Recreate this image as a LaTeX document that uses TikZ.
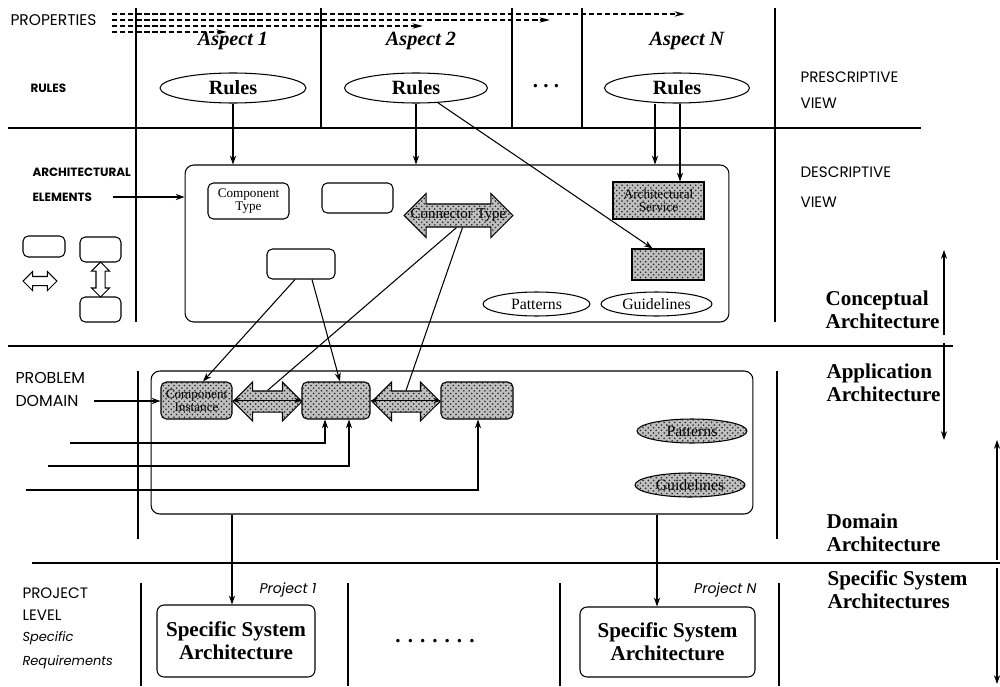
\documentclass[tikz,border=0pt]{standalone}
\usepackage{fontspec}
\setmainfont{Liberation Serif}
\setsansfont{Poppins}
\usetikzlibrary{arrows.meta,shapes.geometric,shapes.arrows,patterns,positioning,calc}

\tikzset{
	lbl/.style={font=\sffamily\fontsize{8.6}{10}\selectfont,anchor=west,inner sep=0},
	lblbf/.style={lbl,font=\sffamily\bfseries\fontsize{6.8}{8}\selectfont},
	lblit/.style={lbl,font=\sffamily\itshape\fontsize{8}{10}\selectfont},
	aspect/.style={font=\bfseries\itshape\fontsize{11.5}{13}\selectfont},
	level/.style={font=\bfseries\fontsize{12}{13}\selectfont,align=left,anchor=west,inner sep=0},
	rulesnode/.style={ellipse,draw,inner sep=0,minimum width=#1,minimum height=0.6cm,font=\bfseries\fontsize{11.5}{13}\selectfont},
	rbox/.style={draw,rounded corners=3pt,inner sep=0,align=center,font=\fontsize{7.5}{7.5}\selectfont},
	pbox/.style={draw,inner sep=0,align=center,font=\fontsize{7.5}{7.5}\selectfont,dotfill},
	oval/.style={ellipse,draw,inner sep=0,minimum height=0.48cm,font=\fontsize{9}{9}\selectfont},
	dotfill/.style={preaction={fill=gray!50},pattern=crosshatch dots,pattern color=black!85},
	conn/.style={double arrow,draw,inner xsep=0,minimum width=0,minimum height=#1},
	ssa/.style={draw,rounded corners=4pt,inner sep=0,align=center,font=\bfseries\fontsize{12}{13}\selectfont},
	arr/.style={-{Stealth[length=5pt,width=3.5pt]}},
	twoarr/.style={{Stealth[length=4pt,width=3pt]}-{Stealth[length=4pt,width=3pt]}},
	propline/.style={line width=0.9pt,dash pattern=on 3pt off 1.6pt,-{Stealth[length=6pt,width=3pt]}}
}

\begin{document}
\begin{tikzpicture}[x=0.02cm,y=-0.02cm,line width=0.6pt]
	\useasboundingbox (0,0) rectangle (1000,686);
	% frame
	\draw (136,8) -- (136,322) (321,8) -- (321,128) (512,8) -- (512,128) (582,8) -- (582,128) (775,8) -- (775,322);
	\draw (8,128) -- (921,128) (8,346) -- (953,346) (32,563) -- (1000,563);
	\draw (138,371) -- (138,539) (777,371) -- (777,539);
	\draw (141,583) -- (141,686) (348,583) -- (348,686) (560,583) -- (560,686) (779,583) -- (779,686);

	% prescriptive view
	\node[lbl,font=\sffamily\fontsize{8.8}{10}\selectfont] (props) at (10,20) {PROPERTIES};
	\foreach \y/\xe in {14/685,20/550,26/423,32/227}
		\draw[propline] (112,\y) -- (\xe,\y);
	\node[lblbf] (rules) at (30,88) {RULES};
	\node[aspect] (a1) at (233,41) {Aspect 1};
	\node[aspect] (a2) at (421,41) {Aspect 2};
	\node[aspect] (an) at (687,41) {Aspect N};
	\node[rulesnode=2.92cm] (r1) at (233,88) {Rules};
	\node[rulesnode=2.86cm] (r2) at (416,88) {Rules};
	\node[rulesnode=2.9cm] (rn) at (677,88) {Rules};
	\node[font=\bfseries\fontsize{12}{12}\selectfont] (dots) at (546,86) {.\hspace{3pt}.\hspace{3pt}.};
	\node[lbl] (presc) at (800,77) {PRESCRIPTIVE};
	\node[lbl] (pview) at (800,103) {VIEW};

	% descriptive view
	\node[lblbf] (arch) at (32,172) {ARCHITECTURAL};
	\node[lblbf] (elem) at (32,197) {ELEMENTS};
	\node[lbl] (descr) at (800,172) {DESCRIPTIVE};
	\node[lbl] (dview) at (800,202) {VIEW};
	\node[rbox,minimum width=10.88cm,minimum height=3.14cm,rounded corners=5pt] (desc) at (457,243.5) {};
	\node[rbox,minimum width=1.62cm,minimum height=0.72cm] (ctype) at (248.5,201) {Component\\Type};
	\node[rbox,minimum width=1.42cm,minimum height=0.6cm] (e2) at (357.5,198) {};
	\node[rbox,minimum width=1.36cm,minimum height=0.6cm] (e3) at (301,264) {};
	\node[conn=2.18cm,inner ysep=0.22cm,double arrow head extend=0.21cm,dotfill] (ct) at (458.5,215.5) {};
	\node[font=\fontsize{8.5}{8.5}\selectfont] at (ct) {Connector Type};
	\node[pbox,minimum width=1.82cm,minimum height=0.74cm] (as) at (658.5,200.5) {Architectural\\Service};
	\node[pbox,minimum width=1.44cm,minimum height=0.62cm] (sb) at (668,264.5) {};
	\node[oval,minimum width=2.14cm] (pat) at (536.5,304) {Patterns};
	\node[oval,minimum width=2.22cm] (guide) at (656.5,304) {Guidelines};
	\node[rbox,minimum width=0.84cm,minimum height=0.42cm] (lb1) at (44,246.5) {};
	\node[rbox,minimum width=0.82cm,minimum height=0.5cm] (lb2) at (100.5,249.5) {};
	\node[rbox,minimum width=0.82cm,minimum height=0.5cm] (lb3) at (100.5,309.5) {};
	\node[conn=0.68cm,inner ysep=0.08cm,double arrow head extend=0.1cm] (lh) at (40,281) {};
	\node[double arrow,draw,inner ysep=0,inner xsep=0.08cm,minimum width=0,minimum height=0.7cm,double arrow head extend=0.09cm,shape border rotate=90] (lv) at ($(lb2.south)!0.5!(lb3.north)$) {};
	\node[level] (concept) at (825,310) {Conceptual\\Architecture};

	\draw[arr] (r1) -- (r1 |- desc.north);
	\draw[arr] (r2) -- (r2 |- desc.north);
	\draw[arr] (r2.-34) -- ([xshift=0.42cm]sb.north west);
	\draw[arr] ([xshift=-0.44cm]rn.south) -- ([xshift=-0.44cm]rn.south |- desc.north);
	\draw[arr] ([xshift=0.06cm]rn.south) -- ([xshift=0.06cm]rn.south |- as.north);
	\draw[arr] ([xshift=0.4cm]elem.east) -- (elem.east -| desc.west);

	% application / domain
	\node[lbl,font=\sffamily\fontsize{9}{10}\selectfont] (prob) at (15,378) {PROBLEM};
	\node[lbl,font=\sffamily\fontsize{9}{10}\selectfont] (dom) at (15,401) {DOMAIN};
	\node[rbox,minimum width=12.04cm,minimum height=2.86cm,rounded corners=5pt] (app) at (452,442.5) {};
	\node[rbox,dotfill,minimum width=1.42cm,minimum height=0.74cm] (ci) at (196.5,400.5) {Component\\Instance};
	\node[rbox,dotfill,minimum width=1.36cm,minimum height=0.74cm] (i2) at (336,400.5) {};
	\node[rbox,dotfill,minimum width=1.44cm,minimum height=0.74cm] (i3) at (477,400.5) {};
	\node[conn=1.38cm,inner ysep=0.2cm,double arrow head extend=0.18cm,dotfill] (cn1) at (267.5,401.5) {};
	\node[conn=1.36cm,inner ysep=0.2cm,double arrow head extend=0.18cm,dotfill] (cn2) at (406,401.5) {};
	\node[oval,dotfill,minimum width=2.2cm] (pat2) at (692,431) {Patterns};
	\node[oval,dotfill,minimum width=2.2cm] (guide2) at (690,485) {Guidelines};
	\node[level] (appl) at (826,382.5) {Application\\Architecture};
	\node[level] (domain) at (826,532.5) {Domain\\Architecture};

	\draw[twoarr] (ci.east) -- (i2.west);
	\draw[twoarr] (i2.east) -- (i3.west);
	\draw[arr] ([xshift=-0.12cm]e3.south) -- ([xshift=0.13cm]ci.north);
	\draw[arr] ([xshift=0.22cm]e3.south) -- ([xshift=0.08cm]i2.north);
	\draw ([xshift=-0.04cm]ct.south) -- (cn1.north);
	\draw ([xshift=0.08cm]ct.south) -- (cn2.north);
	\draw[arr] ([xshift=0.3cm]dom.east) -- (dom.east -| ci.west);
	\coordinate (in1) at (70,443);
	\coordinate (in2) at (48,466);
	\coordinate (in3) at (26,490);
	\draw[arr] (in1) -| ([xshift=-0.22cm]i2.south);
	\draw[arr] (in2) -| ([xshift=0.26cm]i2.south);
	\draw[arr] (in3) -| ([xshift=0.02cm]i3.south);

	% project level
	\node[lbl] (proj) at (22,593) {PROJECT};
	\node[lbl] (lev) at (22,615) {LEVEL};
	\node[lblit,font=\sffamily\itshape\fontsize{7.4}{10}\selectfont] (spec) at (22,638) {Specific};
	\node[lblit,font=\sffamily\itshape\fontsize{7.4}{10}\selectfont] (req) at (22,662) {Requirements};
	\node[ssa,minimum width=3.16cm,minimum height=1.44cm] (ssa1) at (236,641) {Specific System\\Architecture};
	\node[ssa,minimum width=3.5cm,minimum height=1.4cm] (ssa2) at (667.5,642) {Specific System\\Architecture};
	\node[lblit,anchor=east] (p1) at (317,590) {Project 1};
	\node[lblit,anchor=east] (pn) at (757,590) {Project N};
	\node[font=\bfseries\fontsize{12}{12}\selectfont] (pdots) at (435,641) {.\hspace{4pt}.\hspace{4pt}.\hspace{4pt}.\hspace{4pt}.\hspace{4pt}.\hspace{4pt}.};
	\node[level] (specsys) at (827,590) {Specific System\\Architectures};

	\draw[arr] ([xshift=-0.08cm]ssa1.north |- app.south) -- ([xshift=-0.08cm]ssa1.north);
	\draw[arr] ([xshift=-0.21cm]ssa2.north |- app.south) -- ([xshift=-0.21cm]ssa2.north);

	% level arrows
	\coordinate (ca) at (944,335);
	\coordinate (cb) at (944,250);
	\coordinate (cc) at (944,343);
	\coordinate (cd) at (944,440);
	\coordinate (ce) at (997,560);
	\coordinate (cf) at (997,440);
	\coordinate (cg) at (997,568);
	\coordinate (ch) at (997,684);
	\draw[arr] (ca) -- (cb);
	\draw[arr] (cc) -- (cd);
	\draw[arr] (ce) -- (cf);
	\draw[arr] (cg) -- (ch);
\end{tikzpicture}
\end{document}
